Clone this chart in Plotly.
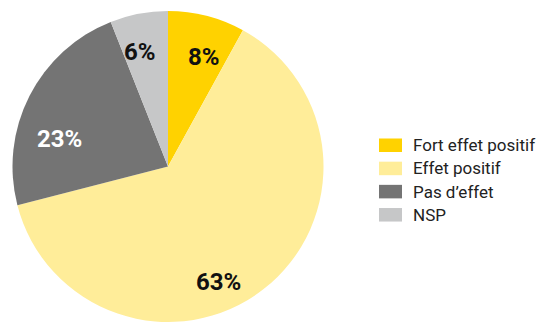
import math
import plotly.graph_objects as go

# Survey answers (percent)
labels = ["Fort effet positif", "Effet positif", "Pas d\u2019effet", "NSP"]
values = [8, 63, 23, 6]
colors = ["#FFD200", "#FFED99", "#747474", "#C6C7C8"]
text_colors = ["#111111", "#111111", "#FFFFFF", "#111111"]

W, H = 539, 322
M_TOP = 11
DOM_X = (0.0, 336 / W)

fig = go.Figure(
    go.Pie(
        labels=labels,
        values=values,
        sort=False,
        direction="clockwise",
        rotation=0,
        marker=dict(colors=colors, line=dict(width=0)),
        textinfo="none",
        hoverinfo="label+percent",
        showlegend=False,
        domain=dict(x=list(DOM_X), y=[0, 1]),
    )
)

# Geometry of the pie in pixels (radius fixed by the domain height)
cx = (DOM_X[0] + DOM_X[1]) / 2 * W
plot_h = H - M_TOP
radius = plot_h / 2
cy = M_TOP + radius

# Percentage labels placed inside each slice
label_r = [0.80, 0.80, 0.73, 0.82]
label_shift = [2.3, 14.0, -9.5, -1.8]
total = sum(values)
start = 0.0
annotations = []
for i, v in enumerate(values):
    span = v / total * 360
    ang = math.radians(start + span / 2 + label_shift[i])
    start += span
    px = cx + label_r[i] * radius * math.sin(ang)
    py = cy - label_r[i] * radius * math.cos(ang)
    annotations.append(dict(
        x=px / W, y=1 - py / H, xref="paper", yref="paper",
        text=f"{v}%", showarrow=False, xanchor="center", yanchor="middle",
        font=dict(family="Roboto", size=24, color=text_colors[i], weight="bold"),
    ))

# Legend: coloured swatches with labels
shapes = []
leg_x0, leg_x1 = 379, 402
leg_y0, leg_step = 139, 24
for i, lab in enumerate(labels):
    yc = leg_y0 + i * leg_step
    shapes.append(dict(
        type="rect", xref="paper", yref="paper",
        x0=leg_x0 / W, x1=leg_x1 / W,
        y0=1 - (yc + 7) / H, y1=1 - (yc - 7) / H,
        fillcolor=colors[i], line=dict(width=0),
    ))
    annotations.append(dict(
        x=411 / W, y=1 - yc / H, xref="paper", yref="paper",
        text=lab, showarrow=False, xanchor="left", yanchor="middle",
        font=dict(family="Roboto", size=17, color="#222222"),
    ))

fig.update_layout(
    width=W, height=H,
    margin=dict(l=0, r=0, t=M_TOP, b=0),
    paper_bgcolor="white",
    plot_bgcolor="white",
    annotations=annotations,
    shapes=shapes,
)

fig.write_html("out.html")
